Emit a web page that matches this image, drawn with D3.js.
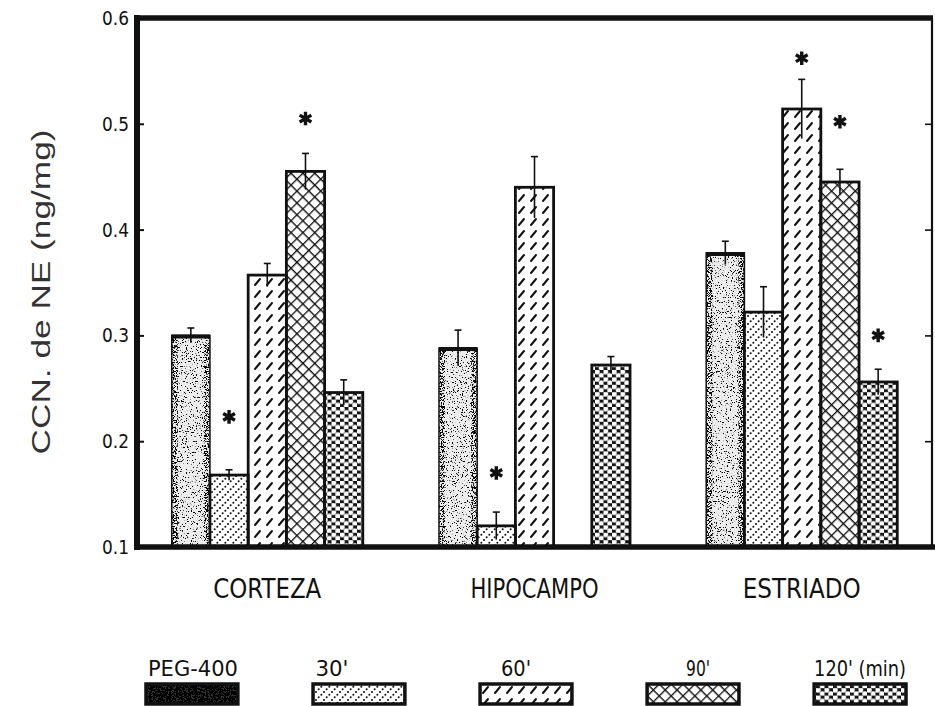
<!DOCTYPE html>
<html>
<head>
<meta charset="utf-8">
<script src="https://cdn.jsdelivr.net/npm/d3@7"></script>
<style>
  body { margin: 0; background: #fff; }
  svg { display: block; }
</style>
</head>
<body>
<div class="canvas"></div>
<script>
// values (ng/mg)
const regions = ['CORTEZA', 'HIPOCAMPO', 'ESTRIADO'];
const treatments = ['PEG-400', "30'", "60'", "90'", "120' (min)"];

const corteza   = [0.300, 0.168, 0.357, 0.455, 0.246];
const hipocampo = [0.288, 0.120, 0.440, null,  0.272];
const estriado  = [0.378, 0.322, 0.514, 0.445, 0.256];

const cortezaErr   = [0.007, 0.005, 0.011, 0.017, 0.012];
const hipocampoErr = [0.017, 0.013, 0.029, null,  0.008];
const estriadoErr  = [0.011, 0.024, 0.028, 0.012, 0.012];

// where the significance asterisks sit (same units as the y axis)
const cortezaStar   = [null, 0.223, null, 0.505, null];
const hipocampoStar = [null, 0.170, null, null,  null];
const estriadoStar  = [null, null,  0.562, 0.502, 0.300];

const yTicks = [0.1, 0.2, 0.3, 0.4, 0.5, 0.6];

const means = [corteza, hipocampo, estriado];
const errs = [cortezaErr, hipocampoErr, estriadoErr];
const stars = [cortezaStar, hipocampoStar, estriadoStar];

const rows = [];
regions.forEach((r, i) => {
    treatments.forEach((t, j) => {
        if (means[i][j] == null) return;
        rows.push({region: r, treat: t, value: means[i][j], err: errs[i][j], star: stars[i][j]});
    });
});

//1. dimensions
const width = 935, height = 706;
const plot = {left: 137, right: 932, top: 18, bottom: 547};

const svg = d3.select('.canvas')
    .append('svg')
    .attr('width', width)
    .attr('height', height);

//2. patterns + stipple filter
const defs = svg.append('defs');

const makeStipple = (id, freq, seed, a, b) => {
    const f = defs.append('filter').attr('id', id)
        .attr('x', 0).attr('y', 0).attr('width', 1).attr('height', 1);
    f.append('feTurbulence').attr('type', 'fractalNoise').attr('baseFrequency', freq)
        .attr('numOctaves', 3).attr('seed', seed).attr('result', 'noise');
    f.append('feColorMatrix').attr('in', 'noise').attr('type', 'matrix')
        .attr('values', `0 0 0 0 0  0 0 0 0 0  0 0 0 0 0  ${a} 0 0 0 ${b}`).attr('result', 'specks');
    f.append('feComposite').attr('in', 'specks').attr('in2', 'SourceAlpha').attr('operator', 'in');
};
makeStipple('stipple', 0.8, 7, -18, 6.7);
makeStipple('stippleEdge', 0.8, 11, -18, 8.6);
makeStipple('stippleDark', 0.6, 3, -16, 9.6);

// 30': dotted slanted lines
const p30 = defs.append('pattern').attr('id', 'p30').attr('patternUnits', 'userSpaceOnUse')
    .attr('width', 8).attr('height', 8);
p30.append('rect').attr('width', 8).attr('height', 8).attr('fill', '#fff');
p30.selectAll('circle').data([[4 / 3, 20 / 3], [4, 4], [20 / 3, 4 / 3]]).join('circle')
    .attr('cx', d => d[0]).attr('cy', d => d[1]).attr('r', 1).attr('fill', '#111');

// 60': short slashes
const p60 = defs.append('pattern').attr('id', 'p60').attr('patternUnits', 'userSpaceOnUse')
    .attr('width', 12).attr('height', 12);
p60.append('rect').attr('width', 12).attr('height', 12).attr('fill', '#fff');
p60.append('line').attr('x1', 3).attr('y1', 9).attr('x2', 8).attr('y2', 3)
    .attr('stroke', '#111').attr('stroke-width', 2).attr('stroke-linecap', 'round');

// 90': diamond cross hatch
const p90 = defs.append('pattern').attr('id', 'p90').attr('patternUnits', 'userSpaceOnUse')
    .attr('width', 8.4).attr('height', 8.4).attr('patternTransform', 'rotate(45)');
p90.append('rect').attr('width', 8.4).attr('height', 8.4).attr('fill', '#fff');
p90.append('path').attr('d', 'M0,0H8.4M0,0V8.4').attr('stroke', '#111').attr('stroke-width', 2.6);

// 120': black with white round holes
const p120 = defs.append('pattern').attr('id', 'p120').attr('patternUnits', 'userSpaceOnUse')
    .attr('width', 8.5).attr('height', 7.4);
p120.append('rect').attr('width', 8.5).attr('height', 7.4).attr('fill', '#151515');
p120.append('circle').attr('cx', 2.1).attr('cy', 1.9).attr('r', 2.6).attr('fill', '#fff');
p120.append('circle').attr('cx', 6.35).attr('cy', 5.6).attr('r', 2.6).attr('fill', '#fff');

const fills = {
    'PEG-400': '#ececec',
    "30'": 'url(#p30)',
    "60'": 'url(#p60)',
    "90'": 'url(#p90)',
    "120' (min)": 'url(#p120)'
};

//3. scales
const x0 = d3.scaleBand().domain(regions).range([plot.left, plot.right])
    .paddingInner(0.285).paddingOuter(0.13);
const x1 = d3.scaleBand().domain(treatments).range([0, x0.bandwidth()]);
const y = d3.scaleLinear().domain([0.1, 0.6]).range([plot.bottom, plot.top]);

const font = "'Liberation Sans Narrow', 'DejaVu Sans Condensed', 'Liberation Sans', sans-serif";

//4. bars
const graph = svg.append('g');
const bx = d => x0(d.region) + x1(d.treat);
const pegRows = rows.filter(d => d.treat === 'PEG-400');

graph.selectAll('rect.bar').data(rows).join('rect')
    .attr('class', 'bar')
    .attr('x', bx)
    .attr('y', d => y(d.value))
    .attr('width', x1.bandwidth())
    .attr('height', d => y(0.1) - y(d.value))
    .attr('fill', d => fills[d.treat]);

// speckle over the PEG bars, heavier near the edges
graph.selectAll('rect.peg').data(pegRows).join('rect')
    .attr('class', 'peg')
    .attr('x', bx)
    .attr('y', d => y(d.value))
    .attr('width', x1.bandwidth())
    .attr('height', d => y(0.1) - y(d.value))
    .attr('fill', '#000')
    .attr('filter', 'url(#stipple)');
graph.selectAll('rect.pegEdge').data(pegRows).join('rect')
    .attr('class', 'pegEdge')
    .attr('x', bx)
    .attr('y', d => y(d.value))
    .attr('width', 6)
    .attr('height', d => y(0.1) - y(d.value))
    .attr('fill', '#000')
    .attr('filter', 'url(#stippleEdge)');
graph.selectAll('rect.pegEdgeR').data(pegRows).join('rect')
    .attr('class', 'pegEdgeR')
    .attr('x', d => bx(d) + x1.bandwidth() - 6)
    .attr('y', d => y(d.value))
    .attr('width', 6)
    .attr('height', d => y(0.1) - y(d.value))
    .attr('fill', '#000')
    .attr('filter', 'url(#stippleEdge)');

graph.selectAll('rect.outline').data(rows).join('rect')
    .attr('class', 'outline')
    .attr('x', bx)
    .attr('y', d => y(d.value))
    .attr('width', x1.bandwidth())
    .attr('height', d => y(0.1) - y(d.value))
    .attr('fill', 'none')
    .attr('stroke', '#111')
    .attr('stroke-width', d => d.treat === 'PEG-400' ? 1.5 : 2.8);
// PEG bars have a heavy top edge
graph.selectAll('line.pegTop').data(pegRows).join('line')
    .attr('class', 'pegTop')
    .attr('x1', bx).attr('x2', d => bx(d) + x1.bandwidth())
    .attr('y1', d => y(d.value) + 1).attr('y2', d => y(d.value) + 1)
    .attr('stroke', '#111').attr('stroke-width', 4);

//5. error bars
const cx = d => bx(d) + x1.bandwidth() / 2;
const eb = graph.append('g').attr('stroke', '#111').attr('stroke-width', 1.6);
eb.selectAll('line.stem').data(rows).join('line')
    .attr('x1', cx).attr('x2', cx)
    .attr('y1', d => y(d.value - d.err))
    .attr('y2', d => y(d.value + d.err));
eb.selectAll('line.cap').data(rows).join('line')
    .attr('x1', d => cx(d) - 3.5).attr('x2', d => cx(d) + 3.5)
    .attr('y1', d => y(d.value + d.err))
    .attr('y2', d => y(d.value + d.err));

//6. asterisks
const star = d3.symbol().type(d3.symbolAsterisk).size(130);
graph.selectAll('path.star').data(rows.filter(d => d.star != null)).join('path')
    .attr('class', 'star')
    .attr('d', star)
    .attr('transform', d => `translate(${cx(d)},${y(d.star)})`)
    .attr('fill', 'none')
    .attr('stroke', '#111')
    .attr('stroke-width', 3.4);

//7. frame and axes
const yAxis = d3.axisLeft(y).tickValues(yTicks).tickFormat(d3.format('.1f'))
    .tickSize(-7).tickPadding(8);
const ag = svg.append('g').attr('transform', `translate(${plot.left},0)`).call(yAxis);
ag.select('.domain').remove();
ag.selectAll('.tick line').attr('stroke', '#111').attr('stroke-width', 2);
ag.selectAll('.tick text').attr('font-family', font).attr('font-size', 20).attr('fill', '#111')
    .attr('textLength', 27).attr('lengthAdjust', 'spacingAndGlyphs');

const rAxis = d3.axisRight(y).tickValues(yTicks).tickFormat('').tickSize(-7);
const rg = svg.append('g').attr('transform', `translate(${plot.right},0)`).call(rAxis);
rg.select('.domain').remove();
rg.selectAll('.tick line').attr('stroke', '#111').attr('stroke-width', 1.6);

const frame = svg.append('g').attr('stroke', '#111').attr('fill', 'none');
frame.append('line').attr('x1', plot.left).attr('x2', plot.left)
    .attr('y1', plot.top - 3).attr('y2', plot.bottom + 3).attr('stroke-width', 6);
frame.append('line').attr('x1', plot.left).attr('x2', plot.right + 1)
    .attr('y1', plot.top).attr('y2', plot.top).attr('stroke-width', 5.5);
frame.append('line').attr('x1', plot.left).attr('x2', plot.right + 3)
    .attr('y1', plot.bottom).attr('y2', plot.bottom).attr('stroke-width', 5.5);
frame.append('line').attr('x1', plot.right).attr('x2', plot.right)
    .attr('y1', plot.top).attr('y2', plot.bottom).attr('stroke-width', 2.2);

// region names
const nameLen = {CORTEZA: 108, HIPOCAMPO: 128, ESTRIADO: 118};
svg.append('g').selectAll('text').data(regions).join('text')
    .attr('x', d => x0(d) + x0.bandwidth() / 2)
    .attr('y', 598)
    .attr('text-anchor', 'middle')
    .attr('font-family', font)
    .attr('font-size', 27)
    .attr('fill', '#111')
    .attr('textLength', d => nameLen[d])
    .attr('lengthAdjust', 'spacingAndGlyphs')
    .text(d => d);

// y title
svg.append('text')
    .attr('transform', 'translate(50,292) rotate(-90)')
    .attr('text-anchor', 'middle')
    .attr('font-family', "'Liberation Sans', Arial, sans-serif")
    .attr('font-size', 25)
    .attr('fill', '#333')
    .attr('textLength', 325)
    .attr('lengthAdjust', 'spacingAndGlyphs')
    .text('CCN. de NE (ng/mg)');

//8. legend
const lx = d3.scaleBand().domain(treatments).range([146, 906]).paddingInner(0.45).paddingOuter(0);
const labelShift = [1, -27, -10, 5, 0];
const labelLen = [90, 33, 30, 24, 92];
const legend = svg.append('g');
legend.selectAll('rect.sw').data(treatments).join('rect')
    .attr('class', 'sw')
    .attr('x', d => lx(d)).attr('y', 684)
    .attr('width', lx.bandwidth()).attr('height', 20)
    .attr('fill', d => d === 'PEG-400' ? '#333' : fills[d]);
legend.selectAll('rect.swpeg').data(['PEG-400']).join('rect')
    .attr('class', 'swpeg')
    .attr('x', d => lx(d)).attr('y', 684)
    .attr('width', lx.bandwidth()).attr('height', 20)
    .attr('fill', '#000').attr('filter', 'url(#stippleDark)');
legend.selectAll('rect.swo').data(treatments).join('rect')
    .attr('class', 'swo')
    .attr('x', d => lx(d)).attr('y', 684)
    .attr('width', lx.bandwidth()).attr('height', 20)
    .attr('fill', 'none').attr('stroke', '#111').attr('stroke-width', 3.5);
legend.selectAll('text').data(treatments).join('text')
    .attr('x', (d, i) => lx(d) + lx.bandwidth() / 2 + labelShift[i])
    .attr('y', 676)
    .attr('text-anchor', 'middle')
    .attr('font-family', font)
    .attr('font-size', 21)
    .attr('fill', '#111')
    .attr('textLength', (d, i) => labelLen[i])
    .attr('lengthAdjust', 'spacingAndGlyphs')
    .text(d => d);
</script>
</body>
</html>
